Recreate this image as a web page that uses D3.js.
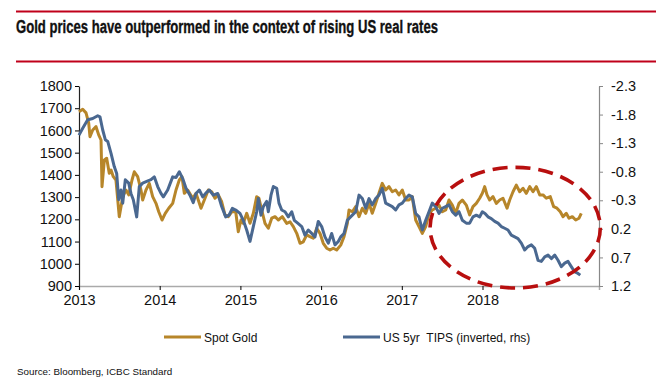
<!DOCTYPE html>
<html>
<head>
<meta charset="utf-8">
<script src="https://cdn.jsdelivr.net/npm/d3@7"></script>
<style>
  html, body { margin: 0; padding: 0; background: #fff; }
  svg { display: block; font-family: "Liberation Sans", Arial, sans-serif; }
</style>
</head>
<body>
<script>
"use strict";

// picture time is in decimal years
const goldYears = [
  2013.000, 2013.046, 2013.087, 2013.120, 2013.136, 2013.170, 2013.211, 2013.244, 2013.273, 2013.285,
  2013.314, 2013.343, 2013.375, 2013.397, 2013.425, 2013.458, 2013.499, 2013.542, 2013.582, 2013.616,
  2013.657, 2013.685, 2013.727, 2013.768, 2013.789, 2013.830, 2013.871, 2013.913, 2013.954, 2013.988,
  2014.029, 2014.069, 2014.112, 2014.161, 2014.202, 2014.243, 2014.276, 2014.305, 2014.347, 2014.409,
  2014.450, 2014.512, 2014.553, 2014.602, 2014.644, 2014.685, 2014.726, 2014.768, 2014.809, 2014.850,
  2014.892, 2014.942, 2014.974, 2015.007, 2015.036, 2015.078, 2015.119, 2015.160, 2015.202, 2015.230,
  2015.264, 2015.305, 2015.346, 2015.388, 2015.429, 2015.470, 2015.519, 2015.574, 2015.615, 2015.656,
  2015.698, 2015.739, 2015.779, 2015.822, 2015.862, 2015.903, 2015.945, 2015.986, 2016.027, 2016.069,
  2016.110, 2016.151, 2016.193, 2016.243, 2016.284, 2016.325, 2016.346, 2016.387, 2016.429, 2016.470,
  2016.511, 2016.553, 2016.594, 2016.634, 2016.677, 2016.717, 2016.758, 2016.800, 2016.841, 2016.882,
  2016.924, 2016.965, 2017.006, 2017.048, 2017.089, 2017.130, 2017.172, 2017.213, 2017.254, 2017.296,
  2017.337, 2017.378, 2017.420, 2017.461, 2017.502, 2017.544, 2017.585, 2017.626, 2017.668, 2017.709,
  2017.750, 2017.799, 2017.841, 2017.882, 2017.923, 2017.965, 2017.998, 2018.027, 2018.056, 2018.089,
  2018.130, 2018.171, 2018.213, 2018.254, 2018.304, 2018.337, 2018.378, 2018.419, 2018.461, 2018.502,
  2018.543, 2018.585, 2018.626, 2018.667, 2018.709, 2018.750, 2018.791, 2018.840, 2018.882, 2018.923,
  2018.964, 2018.998, 2019.038, 2019.072, 2019.113, 2019.155, 2019.196, 2019.224
];
const goldPrices = [
  1684, 1695, 1679, 1634, 1572, 1602, 1617, 1580, 1557, 1347,
  1467, 1475, 1407, 1422, 1392, 1377, 1212, 1302, 1332, 1310,
  1377, 1414, 1392, 1332, 1287, 1332, 1362, 1302, 1272, 1234,
  1197, 1227, 1250, 1272, 1332, 1377, 1392, 1317, 1332, 1295,
  1317, 1250, 1287, 1332, 1324, 1295, 1310, 1279, 1220, 1212,
  1234, 1234, 1144, 1197, 1182, 1227, 1182, 1227, 1302, 1295,
  1242, 1182, 1160, 1205, 1212, 1197, 1212, 1182, 1189, 1167,
  1137, 1092, 1099, 1130, 1122, 1115, 1160, 1137, 1092, 1070,
  1062, 1070, 1062, 1084, 1122, 1182, 1242, 1234, 1257, 1212,
  1250, 1227, 1272, 1227, 1272, 1317, 1362, 1332, 1347, 1324,
  1332, 1310, 1332, 1287, 1287, 1302, 1197, 1167, 1137, 1167,
  1227, 1242, 1250, 1264, 1234, 1242, 1287, 1264, 1227, 1272,
  1287, 1264, 1220, 1257, 1272, 1295, 1317, 1347, 1310, 1287,
  1302, 1272, 1287, 1295, 1250, 1287, 1324, 1354, 1324, 1340,
  1317, 1347, 1324, 1347, 1310, 1310, 1295, 1302, 1257, 1250,
  1234, 1212, 1227, 1205, 1212, 1197, 1205, 1227
];

const tipsYears = [
  2013.000, 2013.046, 2013.108, 2013.170, 2013.232, 2013.260, 2013.294, 2013.326, 2013.356, 2013.397,
  2013.437, 2013.467, 2013.492, 2013.520, 2013.542, 2013.574, 2013.616, 2013.644, 2013.673, 2013.715,
  2013.747, 2013.789, 2013.839, 2013.892, 2013.933, 2013.975, 2014.016, 2014.045, 2014.099, 2014.161,
  2014.202, 2014.243, 2014.285, 2014.326, 2014.375, 2014.416, 2014.450, 2014.491, 2014.533, 2014.574,
  2014.615, 2014.664, 2014.719, 2014.768, 2014.818, 2014.859, 2014.900, 2014.942, 2014.995, 2015.036,
  2015.078, 2015.119, 2015.160, 2015.202, 2015.222, 2015.255, 2015.284, 2015.326, 2015.346, 2015.379,
  2015.408, 2015.450, 2015.478, 2015.512, 2015.553, 2015.594, 2015.636, 2015.668, 2015.710, 2015.760,
  2015.800, 2015.841, 2015.884, 2015.924, 2015.965, 2016.007, 2016.048, 2016.089, 2016.131, 2016.172,
  2016.213, 2016.243, 2016.284, 2016.325, 2016.387, 2016.429, 2016.470, 2016.511, 2016.553, 2016.594,
  2016.634, 2016.677, 2016.717, 2016.758, 2016.800, 2016.841, 2016.882, 2016.924, 2016.965, 2017.006,
  2017.048, 2017.089, 2017.130, 2017.172, 2017.213, 2017.254, 2017.296, 2017.337, 2017.378, 2017.420,
  2017.461, 2017.502, 2017.544, 2017.585, 2017.626, 2017.668, 2017.709, 2017.750, 2017.799, 2017.841,
  2017.882, 2017.923, 2017.965, 2017.998, 2018.031, 2018.068, 2018.109, 2018.151, 2018.192, 2018.233,
  2018.275, 2018.316, 2018.357, 2018.399, 2018.440, 2018.481, 2018.523, 2018.564, 2018.605, 2018.647,
  2018.688, 2018.729, 2018.771, 2018.812, 2018.853, 2018.895, 2018.936, 2018.976, 2019.019, 2019.059,
  2019.100, 2019.142, 2019.183, 2019.212
];
const tipsYields = [
  -1.44, -1.56, -1.71, -1.73, -1.78, -1.76, -1.53, -1.36, -1.33, -1.12,
  -0.89, -0.77, -0.31, -0.48, -0.25, -0.66, -0.60, -0.42, -0.31, -0.01,
  -0.54, -0.60, -0.63, -0.66, -0.71, -0.54, -0.42, -0.36, -0.48, -0.71,
  -0.70, -0.80, -0.68, -0.51, -0.39, -0.26, -0.42, -0.48, -0.36, -0.43,
  -0.48, -0.39, -0.42, -0.19, -0.01, -0.04, -0.16, -0.13, -0.07, 0.05,
  0.22, 0.42, 0.16, -0.10, -0.33, -0.04, -0.19, -0.28, -0.10, -0.39,
  -0.54, -0.51, -0.25, -0.13, -0.10, -0.01, -0.10, 0.05, 0.10, 0.16,
  0.31, 0.22, 0.28, 0.34, 0.07, 0.16, 0.34, 0.45, 0.28, 0.48,
  0.42, 0.34, 0.28, 0.05, -0.04, -0.10, -0.39, -0.33, -0.16, -0.33,
  -0.22, -0.33, -0.39, -0.51, -0.25, -0.22, -0.19, -0.13, -0.22, -0.25,
  -0.33, -0.39, -0.36, -0.07, -0.01, 0.22, 0.05, -0.10, -0.25, -0.19,
  -0.07, -0.16, -0.19, -0.22, -0.10, -0.04, -0.10, 0.05, 0.10, 0.10,
  -0.01, -0.04, -0.01, -0.10, -0.07, -0.01, 0.02, 0.07, 0.10, 0.16,
  0.19, 0.22, 0.31, 0.34, 0.37, 0.45, 0.57, 0.51, 0.48, 0.54,
  0.75, 0.77, 0.69, 0.66, 0.72, 0.66, 0.75, 0.86, 0.80, 0.77,
  0.86, 0.95, 0.98, 1.01
];

const yearTicks = [2013, 2014, 2015, 2016, 2017, 2018];
const goldTicks = [900, 1000, 1100, 1200, 1300, 1400, 1500, 1600, 1700, 1800];
const tipsTicks = [-2.3, -1.8, -1.3, -0.8, -0.3, 0.2, 0.7, 1.2];
const seriesNames = ["Spot Gold", "US 5yr\u00a0\u00a0TIPS (inverted, rhs)"];

// dashed ring round the 2017-18 divergence, in data units
const ringYears = [2017.35, 2019.46];
const ringGold = [1434, 891];

const width = 656;
const height = 385;
const margin = { top: 86, right: 57, bottom: 99, left: 79 };
const goldColor = "#b7862a";
const tipsColor = "#4a6890";
const red = "#c0001a";

const svg = d3.select("body").append("svg")
  .attr("width", width)
  .attr("height", height);

// title block between two red rules
svg.append("line")
  .attr("x1", 16).attr("x2", width).attr("y1", 11.5).attr("y2", 11.5)
  .attr("stroke", red).attr("stroke-width", 1.8);
svg.append("line")
  .attr("x1", 16).attr("x2", width).attr("y1", 61.5).attr("y2", 61.5)
  .attr("stroke", red).attr("stroke-width", 1.8);
svg.append("text")
  .attr("x", 16).attr("y", 32.5)
  .attr("font-family", "'Liberation Sans Narrow', 'Arial Narrow', 'Liberation Sans', sans-serif")
  .attr("font-weight", "bold")
  .attr("font-size", 17.5)
  .attr("textLength", 422)
  .attr("lengthAdjust", "spacingAndGlyphs")
  .attr("stroke", "#111")
  .attr("stroke-width", 0.35)
  .attr("fill", "#111")
  .text("Gold prices have outperformed in the context of rising US real rates");

const x = d3.scaleLinear()
  .domain([2013, 2013 + 520 / 80.7])
  .range([margin.left, width - margin.right]);
const yGold = d3.scaleLinear()
  .domain([900, 1800])
  .range([height - margin.bottom, margin.top]);
const yTips = d3.scaleLinear()
  .domain([1.2, -2.3])
  .range([height - margin.bottom, margin.top]);

const gold = goldYears.map((t, i) => ({ t, v: goldPrices[i] }));
const tips = tipsYears.map((t, i) => ({ t, v: tipsYields[i] }));

// axes
const xAxis = svg.append("g")
  .attr("transform", `translate(0,${height - margin.bottom})`)
  .call(d3.axisBottom(x).tickValues(yearTicks).tickFormat(d3.format("d")).tickSize(4).tickPadding(5));
xAxis.select(".domain").attr("stroke", "#aaa").attr("stroke-width", 1.5);

const leftAxis = svg.append("g")
  .attr("transform", `translate(${margin.left},0)`)
  .call(d3.axisLeft(yGold).tickValues(goldTicks).tickFormat(d3.format("d")).tickSize(4).tickPadding(3).tickSizeOuter(0));
leftAxis.select(".domain").attr("stroke", "#222").attr("stroke-width", 1.2);

const rightAxis = svg.append("g")
  .attr("transform", `translate(${width - margin.right},0)`)
  .call(d3.axisRight(yTips).tickValues(tipsTicks).tickFormat((d) => d.toFixed(1)).tickSize(4).tickPadding(8).tickSizeOuter(0));
rightAxis.select(".domain").attr("stroke", "#888").attr("stroke-width", 1.2);
rightAxis.selectAll(".tick line").attr("stroke", "#888");

svg.selectAll(".tick text")
  .attr("font-size", 14.5)
  .attr("font-family", "'Liberation Sans', Arial, sans-serif")
  .attr("fill", "#111");

// series
const goldLine = d3.line().x((d) => x(d.t)).y((d) => yGold(d.v));
const tipsLine = d3.line().x((d) => x(d.t)).y((d) => yTips(d.v));

svg.append("path")
  .datum(gold)
  .attr("d", goldLine)
  .attr("fill", "none")
  .attr("stroke", goldColor)
  .attr("stroke-width", 3)
  .attr("stroke-linejoin", "round");

svg.append("path")
  .datum(tips)
  .attr("d", tipsLine)
  .attr("fill", "none")
  .attr("stroke", tipsColor)
  .attr("stroke-width", 3)
  .attr("stroke-linejoin", "round");

// highlight ring
const rx0 = x(ringYears[0]), rx1 = x(ringYears[1]);
const ry0 = yGold(ringGold[0]), ry1 = yGold(ringGold[1]);
svg.append("ellipse")
  .attr("cx", (rx0 + rx1) / 2)
  .attr("cy", (ry0 + ry1) / 2)
  .attr("rx", (rx1 - rx0) / 2)
  .attr("ry", (ry1 - ry0) / 2)
  .attr("fill", "none")
  .attr("stroke", "#b80f0f")
  .attr("stroke-width", 3.6)
  .attr("stroke-dasharray", "15 8");

// legend
const legend = svg.append("g").attr("font-size", 12).attr("fill", "#111");
const legendItems = [
  { name: seriesNames[0], color: goldColor, x: 164 },
  { name: seriesNames[1], color: tipsColor, x: 343 }
];
legendItems.forEach((item) => {
  legend.append("line")
    .attr("x1", item.x).attr("x2", item.x + 37)
    .attr("y1", 337).attr("y2", 337)
    .attr("stroke", item.color).attr("stroke-width", 3);
  legend.append("text")
    .attr("x", item.x + 40).attr("y", 341.5)
    .text(item.name);
});

svg.append("text")
  .attr("x", 17).attr("y", 375)
  .attr("font-size", 9.8)
  .attr("fill", "#111")
  .text("Source: Bloomberg, ICBC Standard");
</script>
</body>
</html>
